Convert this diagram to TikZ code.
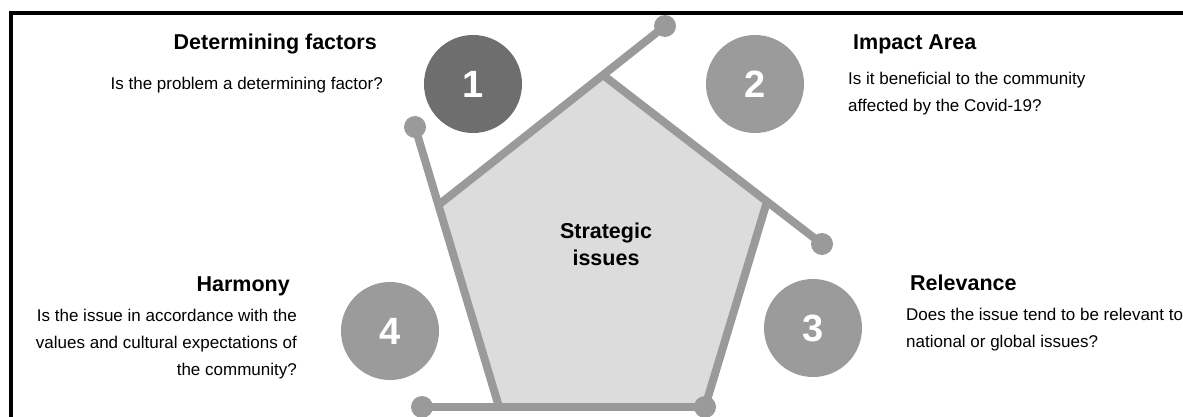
\documentclass[tikz,border=0pt]{standalone}
\usepackage{fontspec}
\setmainfont{Liberation Sans}
\definecolor{linegray}{HTML}{9A9A9A}
\definecolor{badgegray}{HTML}{9B9B9B}
\definecolor{badgedark}{HTML}{6E6E6E}
\definecolor{pentfill}{HTML}{DCDCDC}
\begin{document}
\begin{tikzpicture}[x=1pt,y=-1pt,
  edge/.style={line width=8pt, draw=linegray},
  knob/.style={circle, fill=linegray, minimum size=22pt, inner sep=0pt},
  badge/.style={circle, minimum size=98pt, inner sep=0pt, text=white,
    font=\fontsize{38}{38}\selectfont\bfseries},
  heading/.style={font=\fontsize{21.5}{27}\selectfont\bfseries, inner sep=0pt},
  body/.style={font=\fontsize{17}{27}\selectfont, inner sep=0pt},
]
\useasboundingbox (0,0) rectangle (1183,417);

% frame (top and left edges)
\draw[line width=4pt] (10.5,417) -- (10.5,13) -- (1183,13);

% pentagon corners
\coordinate (T)  at (603,75);
\coordinate (UR) at (767,201.6);
\coordinate (LR) at (705,407);
\coordinate (LL) at (499,407);
\coordinate (UL) at (438.4,205);

% pentagon body
\fill[pentfill] (T) -- (UR) -- (LR) -- (LL) -- (UL) -- cycle;

% knobs at the ends of the extended sides
\node[knob] (kTop) at (665,26) {};
\node[knob] (kUR)  at (822,244) {};
\node[knob] (kLR)  at (LR) {};
\node[knob] (kLL)  at (422,407) {};
\node[knob] (kUL)  at (415,127) {};

% sides, each one running past a corner
\draw[edge] (UL) -- (kTop.center);
\draw[edge] (T) -- (kUR.center);
\draw[edge] (UR) -- (kLR.center);
\draw[edge] (kLR.center) -- (kLL.center);
\draw[edge] (LL) -- (kUL.center);

% numbered badges
\node[badge, fill=badgedark] (b1) at (473,84) {1};
\node[badge, fill=badgegray] (b2) at (755,84) {2};
\node[badge, fill=badgegray] (b3) at (813,328) {3};
\node[badge, fill=badgegray] (b4) at (390,331) {4};

% centre label (base anchor sits on the last line)
\node[heading, align=center, anchor=base] (core) at (606,265) {Strategic\\issues};

% criteria
\node[heading, anchor=base east] (t1) at (377,50) {Determining factors};
\node[body, anchor=base east] (q1) at (383,90) {Is the problem a determining factor?};

\node[heading, anchor=base west] (t2) at (853,50) {Impact Area};
\node[body, anchor=base west, align=left] (q2) at (848,112)
  {Is it beneficial to the community\\affected by the Covid-19?};

\node[heading, anchor=base west] (t3) at (910,290) {Relevance};
\node[body, anchor=base west, align=left] (q3) at (906,347)
  {Does the issue tend to be relevant to\\national or global issues?};

\node[heading, anchor=base east] (t4) at (290,291) {Harmony};
\node[body, anchor=base east, align=right] (q4) at (297,375)
  {Is the issue in accordance with the\\values and cultural expectations of\\the community?};
\end{tikzpicture}
\end{document}
